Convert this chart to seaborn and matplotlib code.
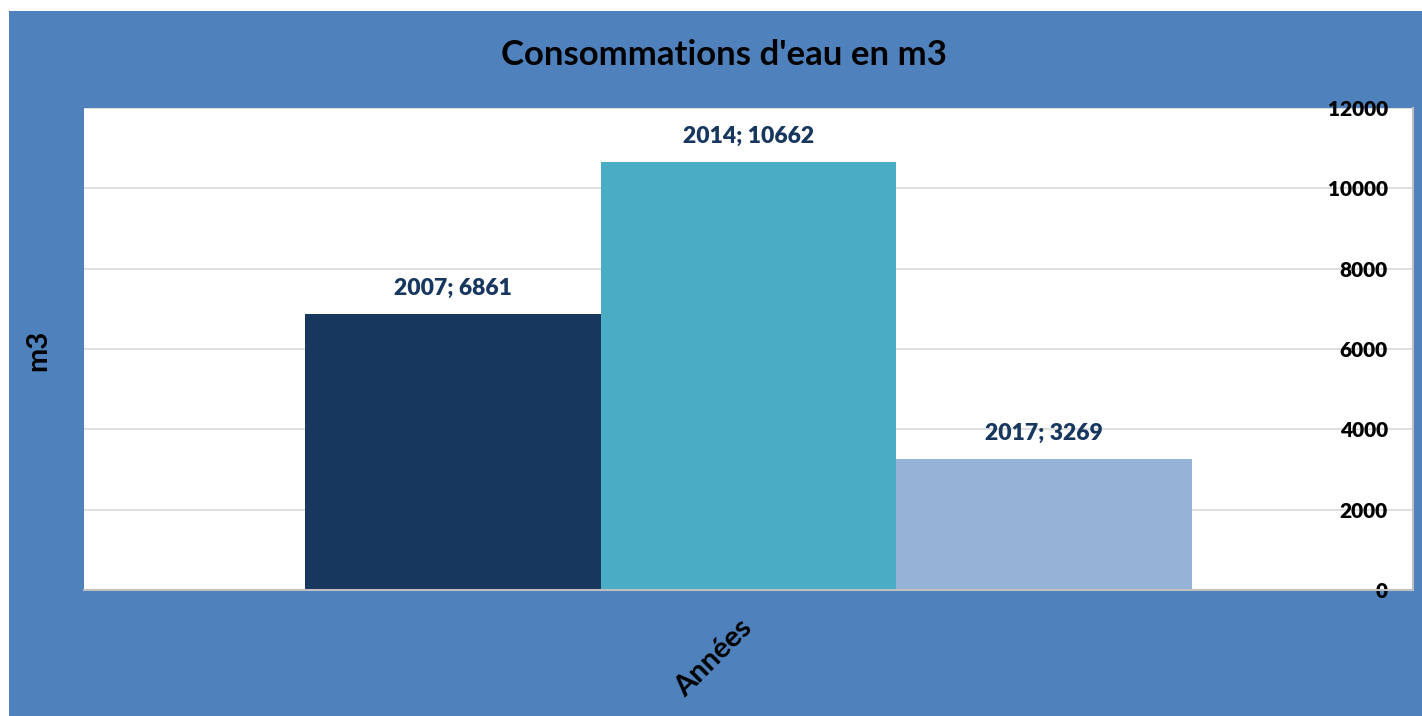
import matplotlib
matplotlib.use("Agg")
import matplotlib.pyplot as plt
import matplotlib.transforms as mtransforms
from matplotlib.patches import Rectangle
import pandas as pd
import seaborn as sns

# data
years = ["2007", "2014", "2017"]
consumption = [6861, 10662, 3269]
category = ["Années"] * len(years)
bar_colors = ["#17375E", "#4BACC6", "#95B3D7"]

df = pd.DataFrame({"cat": category, "year": years, "m3": consumption})

sns.set_theme(style="white")
plt.rcParams["font.family"] = ["Lato", "DejaVu Sans"]

W, H = 1422, 716
fig = plt.figure(figsize=(W / 100, H / 100), dpi=100, facecolor="white")
# blue chart background (white strip at top and left like the original)
fig.patches.append(Rectangle((9 / W, 0), 1 - 9 / W, (H - 11) / H,
                             transform=fig.transFigure, facecolor="#4F81BD",
                             edgecolor="none", zorder=-10))

ax = fig.add_axes([84 / W, (H - 590) / H, 1329 / W, (590 - 108) / H])
ax.set_facecolor("white")

sns.barplot(data=df, x="cat", y="m3", hue="year", palette=bar_colors,
            width=0.667, dodge=True, saturation=1, linewidth=0, ax=ax,
            legend=False)

ax.set_xlim(-0.5, 0.5)
ax.set_ylim(0, 12000)
ax.set_yticks(range(0, 12001, 2000))
ax.yaxis.tick_right()
ax.yaxis.grid(True, color="#D9D9D9", linewidth=1.2)
ax.set_axisbelow(True)
ax.tick_params(axis="y", length=0, pad=-18, labelsize=15)
for lbl in ax.get_yticklabels():
    lbl.set_horizontalalignment("right")
    lbl.set_fontweight("heavy")
    lbl.set_color("black")

ax.tick_params(axis="x", length=0, pad=18, labelsize=21)
shift = mtransforms.ScaledTranslation(-10 / 100, 0, fig.dpi_scale_trans)
for lbl in ax.get_xticklabels():
    lbl.set_rotation(45)
    lbl.set_fontweight("bold")
    lbl.set_color("black")
    lbl.set_horizontalalignment("right")
    lbl.set_rotation_mode("anchor")
    lbl.set_transform(lbl.get_transform() + shift)

for side in ["top", "left"]:
    ax.spines[side].set_visible(False)
ax.spines["bottom"].set_color("#BFBFBF")
ax.spines["bottom"].set_linewidth(1.5)
ax.spines["right"].set_color("#BFBFBF")
ax.spines["right"].set_linewidth(1.5)

for cont, yr, val in zip(ax.containers, years, consumption):
    ax.bar_label(cont, labels=[f"{yr}; {val}"], padding=11, fontsize=16.5,
                 fontweight="heavy", color="#17375E")

ax.set_xlabel("")
ax.set_ylabel("")
fig.text(38 / W, 1 - 350 / H, "m3", rotation=90, ha="center", va="center",
         fontsize=21, fontweight="bold", color="black")
fig.text(724 / W, 1 - 55 / H, "Consommations d'eau en m3", ha="center",
         va="center", fontsize=25, fontweight="bold", color="black")

fig.savefig("out.png", dpi=100, facecolor=fig.get_facecolor())
